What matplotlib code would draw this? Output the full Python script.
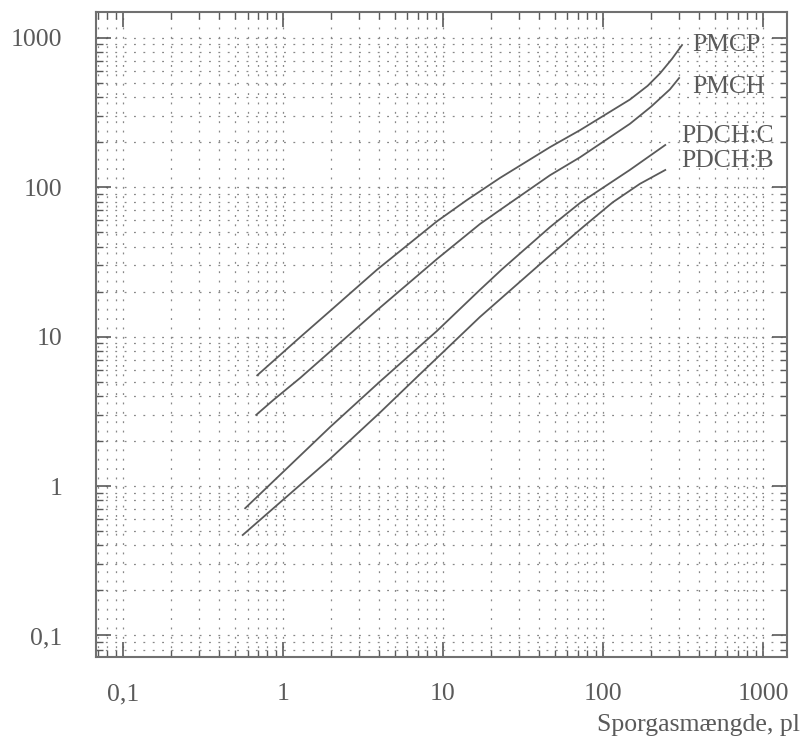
import numpy as np
import matplotlib
matplotlib.use("Agg")
import matplotlib.pyplot as plt
from matplotlib.ticker import FixedLocator, FixedFormatter, LogLocator, NullFormatter

# curves (x = trace gas amount, y = response)
pmcp_x = [0.69, 1.28, 1.91, 3.87, 9.17, 14.1, 22.7, 46.7, 71.8, 147.5, 190, 227, 270, 312]
pmcp_y = [5.5, 9.9, 14.4, 28.0, 59, 81.8, 115, 185, 240, 385, 475, 575, 720, 891]

pmch_x = [0.68, 0.87, 1.28, 1.91, 3.87, 9.17, 17, 22.7, 46.7, 71.8, 147.5, 200, 262, 299]
pmch_y = [2.99, 3.76, 5.28, 7.7, 15.0, 33, 56.5, 70.2, 120, 158, 265, 345, 450, 536]

pdchc_x = [0.58, 1.97, 4.04, 9.17, 17, 23.4, 46.7, 71.8, 147, 245]
pdchc_y = [0.71, 2.48, 5.0, 10.9, 20.5, 28.2, 54, 78.2, 130, 191]

pdchb_x = [0.56, 1.97, 4.04, 7.18, 17, 44.7, 75, 115, 170, 245]
pdchb_y = [0.47, 1.52, 3.1, 5.6, 13.5, 33.5, 54, 79, 105, 130]

series_names = ["PMCP", "PMCH", "PDCH:C", "PDCH:B"]

tick_values = [0.1, 1, 10, 100, 1000]
tick_labels = ["0,1", "1", "10", "100", "1000"]
x_title = "Sporgasmængde, pl"

GREY = "#5a5a5a"
plt.rcParams["font.family"] = ["Liberation Serif", "DejaVu Serif"]

fig = plt.figure(figsize=(8.01, 7.40), dpi=100)
ax = fig.add_axes([96 / 801, 1 - 657 / 740, 691 / 801, 645 / 740])

ax.set_xscale("log")
ax.set_yscale("log")
ax.set_xlim(0.0678, 1413)
ax.set_ylim(0.0718, 1482)

for xs, ys in [(pmcp_x, pmcp_y), (pmch_x, pmch_y), (pdchc_x, pdchc_y), (pdchb_x, pdchb_y)]:
    ax.plot(xs, ys, color=GREY, lw=1.3, zorder=3, solid_joinstyle="round")

# curve labels next to the line ends
label_pos = [(362, 890), (362, 467), (310, 219), (310, 149)]
for name, (lx, ly) in zip(series_names, label_pos):
    ax.text(lx, ly, name, fontsize=18.5, color=GREY, ha="left", va="center", zorder=4)

for axis in (ax.xaxis, ax.yaxis):
    axis.set_major_locator(FixedLocator(tick_values))
    axis.set_major_formatter(FixedFormatter(tick_labels))
    axis.set_minor_locator(LogLocator(base=10, subs=np.arange(2, 10), numticks=20))
    axis.set_minor_formatter(NullFormatter())

ax.grid(True, which="both", color="#888888", lw=0.9, linestyle=(0, (1.5, 6)))
ax.tick_params(which="both", direction="in", top=True, right=True, color=GREY)
ax.tick_params(which="major", length=11, width=1.2, labelsize=18.5, labelcolor=GREY)
ax.tick_params(axis="x", which="major", pad=19)
ax.tick_params(axis="y", which="major", pad=24)
ax.tick_params(which="minor", length=5, width=1.0)

for s in ax.spines.values():
    s.set_color("#707070")
    s.set_linewidth(1.5)

fig.text(800 / 801, 1 - 725 / 740, x_title, fontsize=18.5, color=GREY, ha="right", va="center")

fig.savefig("out.png", dpi=100)
